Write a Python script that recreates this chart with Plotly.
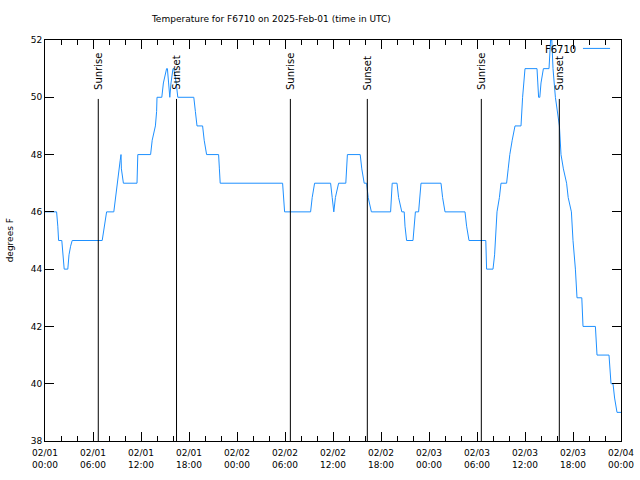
import plotly.graph_objects as go
import pandas as pd

start = pd.Timestamp("2025-02-01 00:00")

# Temperature trace (hours since 2025-02-01 00:00 UTC, degrees F)
hours = [0, 1.45, 1.6, 1.7, 2.1, 2.25, 2.4, 2.85, 3.0, 3.2, 3.4, 7.15, 7.4, 7.7, 8.6, 8.8, 9.0, 9.2, 9.4, 9.5,
         9.55, 9.8, 11.5, 11.6, 13.2, 13.4, 13.8, 13.95, 14.0, 14.6, 14.8, 15.2, 15.3, 15.45, 15.6, 15.75, 16.0,
         16.1, 16.4, 16.6, 18.6, 18.8, 19.0, 19.7, 19.9, 20.2, 21.7, 21.8, 21.9,
         29.7, 29.85, 29.95, 33.2, 33.4, 33.7, 35.7, 35.9, 36.1, 36.3, 36.7, 37.6, 37.8, 39.4, 39.6, 39.9,
         40.2, 40.4, 40.8, 43.2, 43.4, 44.0, 44.2, 44.6, 44.9, 45.0, 45.2, 46.0, 46.3, 46.7, 47.0, 49.5, 49.7,
         50.0, 52.5, 52.7, 53.0, 55.1, 55.2, 56.0, 56.2, 56.5, 56.8, 57.0, 57.7, 57.9, 58.1, 58.4, 58.75,
         59.5, 59.7, 60.0, 61.5, 61.6, 61.7, 61.85, 62.0, 62.3, 63.0, 63.2, 63.35, 63.5, 63.8, 64.3, 64.5,
         64.8, 65.2, 65.4, 65.8, 66.0, 66.3, 66.5, 67.1, 67.25, 68.8, 69.0, 70.5, 70.75, 71.0, 71.2, 71.5, 72.0]
temps = [46, 46, 45.5, 45, 45, 44.5, 44, 44, 44.5, 44.8, 45, 45, 45.5, 46, 46, 46.5, 47, 47.3, 47.8, 48,
         47.5, 47, 47, 48, 48, 48.5, 49, 49.5, 50, 50, 50.5, 51, 51, 50.5, 50, 50.5, 51,
         51, 50.5, 50, 50, 49.5, 49, 49, 48.5, 48, 48, 47.5, 47,
         47, 46.5, 46, 46, 46.5, 47, 47, 46.5, 46, 46.5, 47, 47, 48, 48, 47.5, 47,
         47, 46.5, 46, 46, 47, 47, 46.5, 46, 46, 45.5, 45, 45, 46, 46, 47, 47, 46.5,
         46, 46, 45.5, 45, 45, 44, 44, 44.5, 46, 46.5, 47, 47, 47.5, 48, 48.5, 49,
         49, 50, 51, 51, 50.5, 50, 50, 50.5, 51, 51, 52, 52, 51, 50, 49, 48,
         47.5, 47, 46.5, 46, 45, 44, 43, 43, 42, 42, 41, 41, 40, 40, 39.5, 39, 39]

# Sunrise / sunset events (hours since start)
event_hours = [6.66, 16.44, 30.67, 40.29, 54.54, 64.29]
event_labels = ["Sunrise", "Sunset", "Sunrise", "Sunset", "Sunrise", "Sunset"]

series_name = "F6710"
title_text = "Temperature for F6710 on 2025-Feb-01 (time in UTC)"
y_label = "degrees F"

times = [start + pd.Timedelta(hours=h) for h in hours]
ev_times = [start + pd.Timedelta(hours=h) for h in event_hours]

FONT = "DejaVu Sans"
LINE_COLOR = "#1e90ff"

fig = go.Figure()
fig.add_trace(go.Scatter(x=times, y=temps, mode="lines", name=series_name,
                         line=dict(color=LINE_COLOR, width=1), showlegend=False))

line_top = 0.853
for t, lab in zip(ev_times, event_labels):
    fig.add_shape(type="line", xref="x", yref="paper", x0=t, x1=t, y0=0, y1=line_top,
                  line=dict(color="black", width=1))
    fig.add_annotation(x=t, y=line_top + 0.017, xref="x", yref="paper", text=lab,
                       textangle=-90, showarrow=False, xanchor="center", yanchor="bottom",
                       font=dict(family=FONT, size=10, color="black"))

# legend (text then sample line, like the original)
fig.add_annotation(x=0.925, y=0.977, xref="paper", yref="paper", text=series_name, showarrow=False,
                   xanchor="right", yanchor="middle", font=dict(family=FONT, size=10, color="black"))
fig.add_shape(type="line", xref="paper", yref="paper", x0=0.934, x1=0.981, y0=0.979, y1=0.979,
              line=dict(color=LINE_COLOR, width=1))

fig.add_annotation(x=-0.061, y=0.5, xref="paper", yref="paper", text=y_label, textangle=-90,
                   showarrow=False, xanchor="center", yanchor="middle",
                   font=dict(family=FONT, size=9, color="black"))

fig.update_layout(
    width=640, height=480,
    margin=dict(l=45, r=19, t=40, b=39),
    paper_bgcolor="white", plot_bgcolor="white",
    title=dict(text=title_text, x=0.424, xanchor="center", y=0.96, yanchor="middle",
               font=dict(family=FONT, size=9, color="black")),
    font=dict(family=FONT, size=9, color="black"),
)
fig.update_xaxes(
    type="date", automargin=False,
    range=[start, start + pd.Timedelta(hours=72)],
    tickformat="%m/%d<br>%H:%M",
    dtick=6 * 3600 * 1000,
    tick0=start,
    ticks="inside", ticklen=9, tickcolor="black", tickwidth=1,
    ticklabelstandoff=3,
    minor=dict(dtick=2 * 3600 * 1000, ticks="inside", ticklen=5, tickcolor="black", tickwidth=1),
    showline=True, linecolor="black", linewidth=1, mirror="ticks",
    showgrid=False, zeroline=False,
    tickfont=dict(family=FONT, size=9, color="black"),
)
fig.update_yaxes(
    range=[38, 52], dtick=2, tick0=38, automargin=False,
    ticks="inside", ticklen=9, tickcolor="black", tickwidth=1,
    showline=True, linecolor="black", linewidth=1, mirror="ticks",
    showgrid=False, zeroline=False,
    tickfont=dict(family=FONT, size=9, color="black"),
)

fig.write_html("out.html")
